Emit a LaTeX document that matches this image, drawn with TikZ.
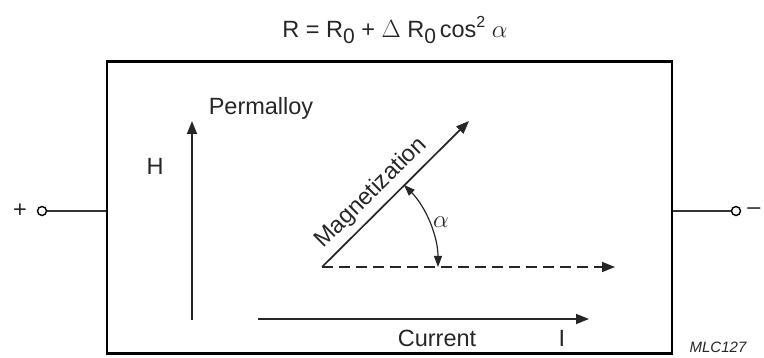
\documentclass[tikz,border=0pt]{standalone}
\usepackage{fontspec}
\setmainfont{Liberation Sans}
\usetikzlibrary{arrows.meta, positioning, calc}
\newcommand{\lowsub}[1]{\raisebox{-0.45ex}{\fontsize{21}{24}\selectfont #1}}
\newcommand{\highsup}[1]{\raisebox{0.85ex}{\fontsize{16}{19}\selectfont #1}}
\tikzset{
    lbl/.style={
        inner sep=0pt, text=black!85,
        font=\fontsize{23.5}{27}\selectfont,
    },
    sensor/.style={
        rectangle, draw=black, line width=2.8pt,
        minimum width=565pt, minimum height=292pt,
        inner sep=0pt,
    },
    terminal/.style={
        circle, draw=black, line width=1.4pt,
        minimum size=9pt, inner sep=0pt,
    },
    lead/.style={
        line width=1.4pt, color=black!80
    },
    arr/.style={
        -{Triangle[length=13pt, width=10pt]}, line width=1.7pt, color=black!85
    },
    dasharr/.style={
        -{Triangle[length=13pt, width=10pt]}, line width=1.7pt, color=black!85,
        dash pattern=on 11pt off 6pt
    },
    angarr/.style={
        {Triangle[length=11pt, width=8pt]}-{Triangle[length=11pt, width=8pt]},
        line width=1.2pt, color=black!85
    },
}

\begin{document}
\begin{tikzpicture}[x=1pt, y=-1pt]

    \useasboundingbox (0, 0) rectangle (764, 358);

    % ── Formula ──
    \node[lbl] (formula) at (395, 30)
        {R = R\lowsub{0} + $\Delta$ R\lowsub{0}\,cos\highsup{2} $\alpha$};

    % ── Permalloy strip ──
    \node[sensor] (strip) at (389.5, 207.5) {};

    % ── Terminals ──
    \node[terminal] (tleft)  at (42, 211)  {};
    \node[terminal] (tright) at (736, 211) {};
    \node[lbl] (plus)  at (20, 211)  {+};
    \node[lbl] (minus) at (754, 211) {\textendash};

    \draw[lead] (tleft)  -- (tleft -| strip.west);
    \draw[lead] (tright) -- (tright -| strip.east);

    % ── Labels inside the strip ──
    \node[lbl] (permalloy) at (261, 108) {Permalloy};
    \node[lbl] (hlabel)    at (155, 166) {H};

    % ── Field H ──
    \coordinate (hbot) at (192, 320);
    \coordinate (htop) at (192, 121);
    \draw[arr] (hbot) -- (htop);

    % ── Magnetization and easy axis ──
    \coordinate (origin) at (322, 267);
    \coordinate (mtip)   at (469, 121);
    \coordinate (dtip)   at (615, 267);
    \draw[arr] (origin) -- node[lbl, sloped, pos=0.42, above=6pt] (magn) {Magnetization} (mtip);
    \draw[dasharr] (origin) -- (dtip);

    % ── Angle alpha ──
    \draw[angarr] ([shift={(0:116)}]origin) arc[start angle=0, end angle=-45, radius=116];
    \node[lbl] (alpha) at (441, 222) {$\alpha$};

    % ── Current ──
    \coordinate (cstart) at (258, 319);
    \coordinate (ctip)   at (589, 319);
    \draw[arr] (cstart) -- (ctip);
    \node[lbl] (current) at (437, 338) {Current};
    \node[lbl] (ilabel)  at (562, 338) {I};

    % ── Figure code ──
    \node[lbl, font=\fontsize{15}{17}\selectfont\itshape] (code) at (718, 347) {MLC127};

\end{tikzpicture}
\end{document}
